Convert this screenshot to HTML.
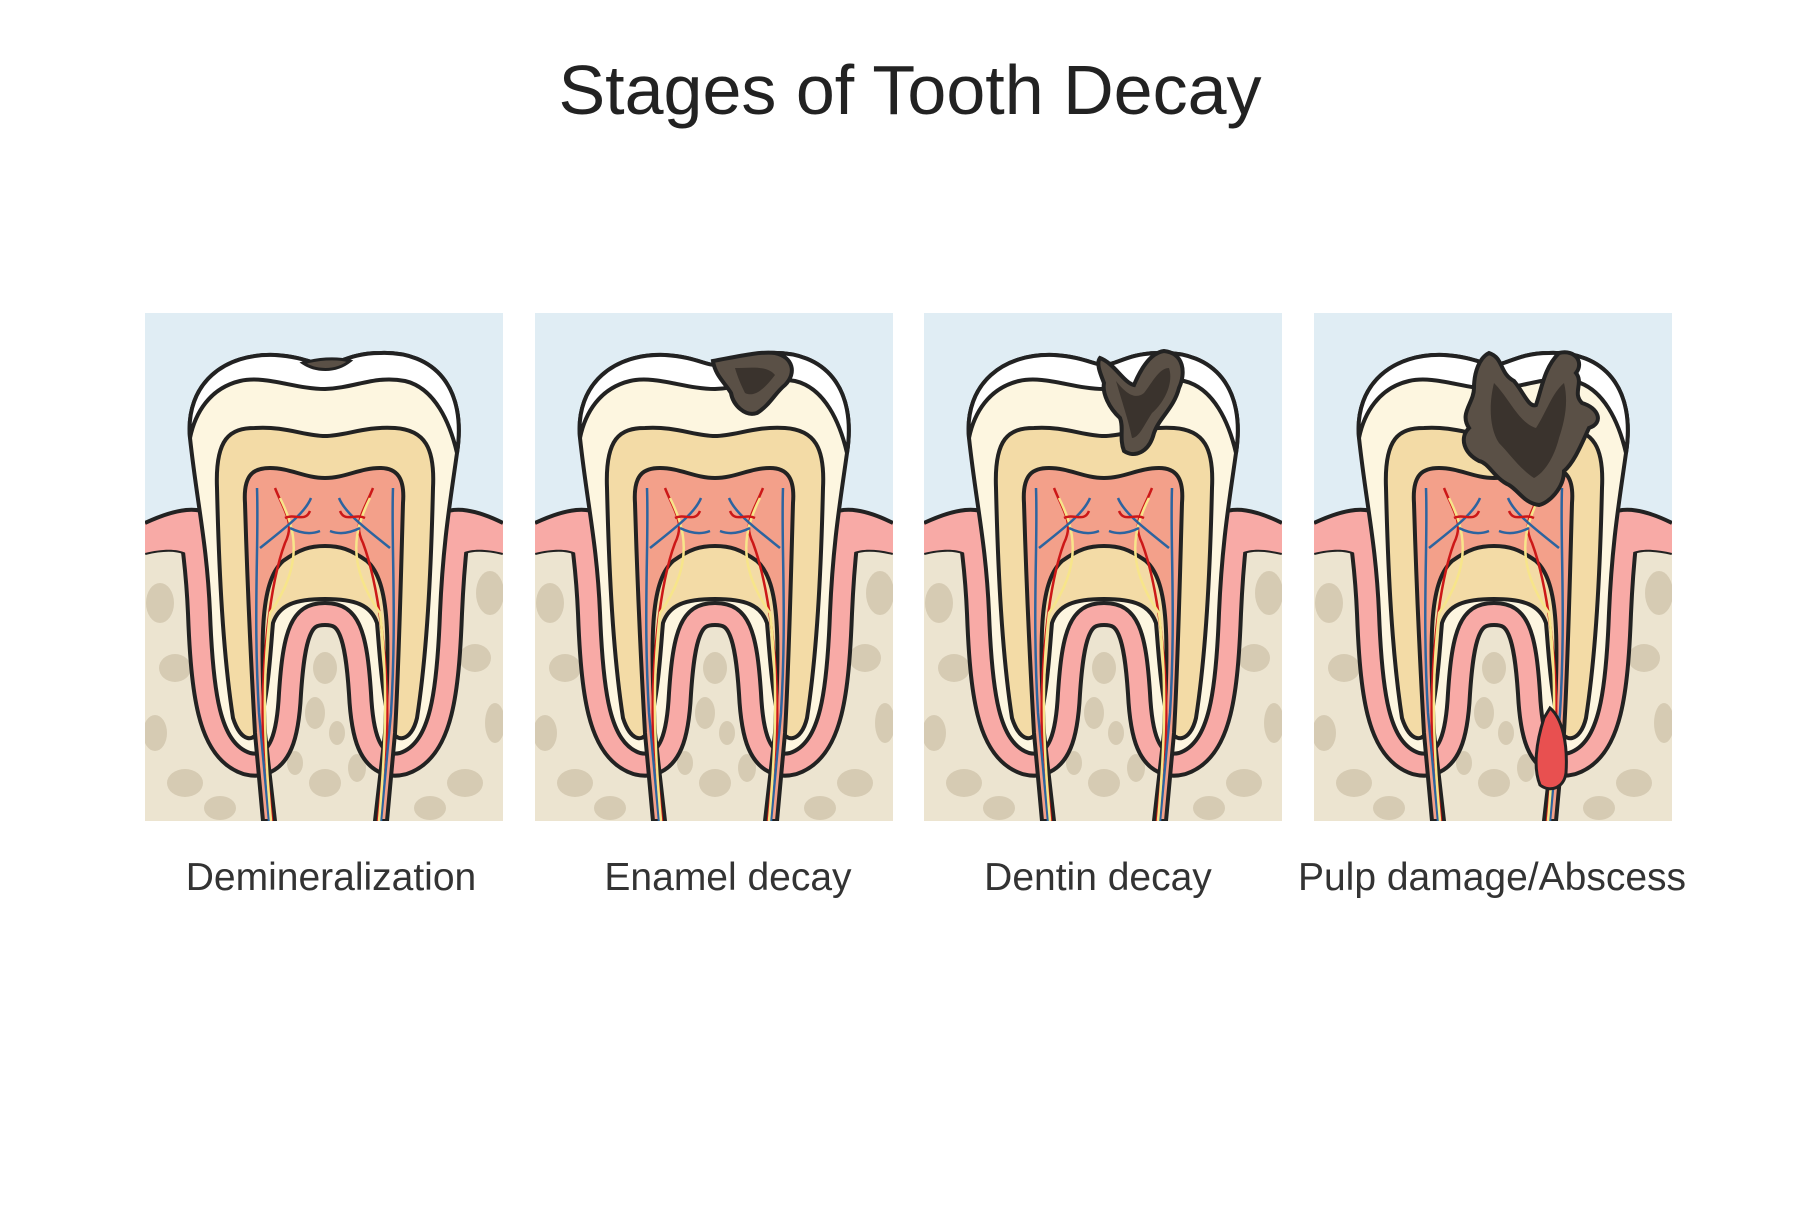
<!DOCTYPE html>
<html><head><meta charset="utf-8"><style>
html,body{margin:0;padding:0;background:#fff;}
body{width:1820px;height:1214px;position:relative;overflow:hidden;font-family:"Liberation Sans",sans-serif;}
.t{position:absolute;left:0;width:1820px;top:50px;text-align:center;font-size:70px;color:#222;}
.l{position:absolute;top:856px;font-size:39px;color:#333;width:440px;text-align:center;}
svg{position:absolute;left:0;top:0;}
</style></head><body>
<div class="t">Stages of Tooth Decay</div>
<div class="l" style="left:111px">Demineralization</div>
<div class="l" style="left:508px">Enamel decay</div>
<div class="l" style="left:878px">Dentin decay</div>
<div class="l" style="left:1272px">Pulp damage/Abscess</div>
<svg width="1820" height="1214" viewBox="0 0 1820 1214">
<defs>
<clipPath id="c"><rect x="0" y="0" width="358" height="508"/></clipPath>
<clipPath id="low"><rect x="0" y="205" width="358" height="303"/></clipPath>
<g id="tooth">
<rect x="0" y="0" width="358" height="508" fill="#e0edf4"/>
<path d="M0,210 C30,196 50,194 62,200 L298,200 C310,194 330,196 358,210 L358,508 L0,508 Z" fill="#f8aaa6"/>
<path d="M0,240 C25,234 45,236 50,250 L50,508 L0,508 Z M358,240 C333,234 313,236 308,250 L308,508 L358,508 Z" fill="#ece4d0"/>
<path d="M0,240 C25,234 45,236 50,250 M358,240 C333,234 313,236 308,250" fill="none" stroke="#222" stroke-width="4"/>
<rect x="40" y="300" width="280" height="208" fill="#ece4d0"/>
<g fill="#d6cbb3">
<ellipse cx="15" cy="290" rx="14" ry="20"/><ellipse cx="30" cy="355" rx="16" ry="14"/><ellipse cx="10" cy="420" rx="12" ry="18"/><ellipse cx="40" cy="470" rx="18" ry="14"/><ellipse cx="75" cy="495" rx="16" ry="12"/>
<ellipse cx="345" cy="280" rx="14" ry="22"/><ellipse cx="330" cy="345" rx="16" ry="14"/><ellipse cx="350" cy="410" rx="10" ry="20"/><ellipse cx="320" cy="470" rx="18" ry="14"/><ellipse cx="285" cy="495" rx="16" ry="12"/>
<ellipse cx="180" cy="355" rx="12" ry="16"/><ellipse cx="170" cy="400" rx="10" ry="16"/><ellipse cx="192" cy="420" rx="8" ry="12"/><ellipse cx="180" cy="470" rx="16" ry="14"/><ellipse cx="150" cy="450" rx="8" ry="12"/><ellipse cx="212" cy="455" rx="9" ry="14"/>
</g>
<g clip-path="url(#low)">
<path d="M45,125 C40,70 80,40 130,42 C160,44 170,52 180,52 C192,52 205,40 235,40 C290,38 322,75 312,140 C305,190 298,230 295,300 C292,380 285,430 255,440 C235,445 228,420 226,380 C222,320 215,290 180,290 C145,290 138,320 134,380 C132,420 125,445 105,440 C75,430 68,380 65,300 C62,230 52,190 45,125 Z" fill="none" stroke="#222" stroke-width="48" stroke-linejoin="round"/>
<path d="M45,125 C40,70 80,40 130,42 C160,44 170,52 180,52 C192,52 205,40 235,40 C290,38 322,75 312,140 C305,190 298,230 295,300 C292,380 285,430 255,440 C235,445 228,420 226,380 C222,320 215,290 180,290 C145,290 138,320 134,380 C132,420 125,445 105,440 C75,430 68,380 65,300 C62,230 52,190 45,125 Z" fill="none" stroke="#f8aaa6" stroke-width="40" stroke-linejoin="round"/>
</g>
<path d="M0,210 C30,196 50,194 62,200 L298,200 C310,194 330,196 358,210 L358,240 C333,234 313,236 308,250 L50,250 C45,236 25,234 0,240 Z" fill="#f8aaa6"/>
<path d="M0,210 C30,196 50,194 62,200 M298,200 C310,194 330,196 358,210" fill="none" stroke="#222" stroke-width="4"/>
<path d="M45,125 C40,70 80,40 130,42 C160,44 170,52 180,52 C192,52 205,40 235,40 C290,38 322,75 312,140 C305,190 298,230 295,300 C292,380 285,430 255,440 C235,445 228,420 226,380 C222,320 215,290 180,290 C145,290 138,320 134,380 C132,420 125,445 105,440 C75,430 68,380 65,300 C62,230 52,190 45,125 Z" fill="#fdf6e0" stroke="#222" stroke-width="4"/>
<path d="M45,125 C40,70 80,40 130,42 C160,44 170,52 180,52 C192,52 205,40 235,40 C290,38 322,75 312,140 C305,110 290,75 260,68 C230,62 210,75 180,76 C150,76 120,62 95,68 C65,75 50,100 45,125 Z" fill="#fff" stroke="#222" stroke-width="4"/>
<path d="M72,175 C70,125 85,115 110,115 C140,113 160,123 180,123 C200,123 220,113 250,115 C280,117 290,135 288,175 C286,260 282,340 272,405 C266,430 250,430 246,415 C236,380 234,330 232,310 C226,292 210,286 180,286 C150,286 134,292 128,310 C126,330 124,380 114,415 C110,430 96,430 88,405 C78,340 74,260 72,175 Z" fill="#f3dba6" stroke="#222" stroke-width="4"/>
<path d="M100,190 C98,160 110,155 125,155 C145,155 160,165 180,165 C200,165 215,155 235,155 C252,155 260,165 258,190 C256,260 254,350 250,420 L242,508 L230,508 L240,420 C244,330 246,270 222,248 C205,236 195,233 180,233 C165,233 155,236 138,248 C114,270 116,330 120,420 L130,508 L118,508 L110,420 C106,350 102,260 100,190 Z" fill="#f3a08a" stroke="#222" stroke-width="4"/>
<g fill="none" stroke-width="2.5">
<path d="M112,175 C114,230 108,300 114,400 L124,508" stroke="#2c64a0"/>
<path d="M248,175 C246,230 252,300 246,400 L236,508" stroke="#2c64a0"/>
<path d="M130,175 C140,200 150,210 140,230 C125,270 116,350 118,420 L127,508" stroke="#cc1818"/>
<path d="M228,175 C218,200 208,210 218,230 C233,270 244,350 242,420 L233,508" stroke="#cc1818"/>
<path d="M135,185 C150,215 160,250 125,300 C118,360 118,420 126,508" stroke="#f7e58a"/>
<path d="M225,185 C210,215 200,250 235,300 C242,360 242,420 234,508" stroke="#f7e58a"/>
<path d="M115,235 C140,215 160,200 166,185 M145,215 C155,220 165,222 175,218" stroke="#2c64a0"/>
<path d="M245,235 C220,215 200,200 194,185 M215,215 C205,220 195,222 185,218" stroke="#2c64a0"/>
<path d="M140,205 C150,200 160,210 165,198 M220,205 C210,200 200,210 195,198" stroke="#cc1818"/>
</g>
</g>
</defs>
<g transform="translate(145,313)" clip-path="url(#c)"><use href="#tooth"/>
<path d="M158,50 C170,58 190,60 205,48 C190,44 172,46 158,50 Z" fill="#5a5046" stroke="#222" stroke-width="3"/></g>
<g transform="translate(535,313)" clip-path="url(#c)"><use href="#tooth"/>
<path d="M178,48 C200,44 225,38 240,40 C258,44 262,60 250,72 C240,80 235,92 222,100 C210,104 198,92 196,80 C190,70 180,62 178,48 Z" fill="#5a5046" stroke="#222" stroke-width="4"/>
<path d="M200,55 C215,55 232,52 240,62 C230,75 220,85 210,80 C205,70 202,62 200,55 Z" fill="#3a332d"/></g>
<g transform="translate(924,313)" clip-path="url(#c)"><use href="#tooth"/>
<path d="M176,45 C190,50 200,70 210,72 C215,60 225,40 240,38 C260,40 262,60 255,75 C250,95 235,105 230,120 C225,140 210,145 200,138 C195,125 200,115 196,105 C185,95 178,80 180,70 C176,60 172,50 176,45 Z" fill="#5a5046" stroke="#222" stroke-width="4"/>
<path d="M192,68 C200,78 210,88 220,80 C228,70 235,55 245,55 C250,70 240,90 228,100 C220,112 215,125 208,125 C205,110 200,95 192,68 Z" fill="#3a332d"/></g>
<g transform="translate(1314,313)" clip-path="url(#c)"><use href="#tooth"/>
<path d="M175,40 C190,45 185,60 200,68 C210,80 215,95 222,92 C228,75 230,55 245,40 C262,36 270,50 262,60 C270,70 258,80 268,90 C285,95 290,110 275,115 C268,130 260,150 250,158 C250,175 235,190 225,192 C210,190 205,178 195,172 C180,165 175,150 165,148 C150,140 145,125 155,115 C145,100 160,90 160,75 C160,60 165,45 175,40 Z" fill="#5a5046" stroke="#222" stroke-width="4"/>
<path d="M180,70 C195,85 205,110 222,115 C232,100 238,80 250,70 C255,90 250,110 245,125 C240,145 230,160 220,165 C205,155 195,140 185,130 C175,115 175,90 180,70 Z" fill="#3a332d"/>
<path d="M236,395 C248,405 254,430 252,460 C250,475 236,480 226,472 C219,455 222,430 230,405 Z" fill="#e85050" stroke="#222" stroke-width="3"/></g>
</svg>
</body></html>
